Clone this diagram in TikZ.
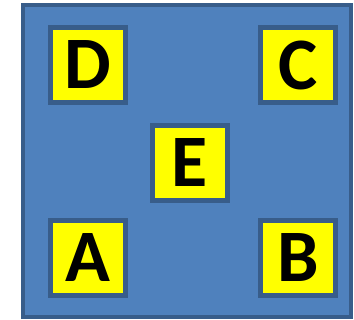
\documentclass[tikz,border=0pt]{standalone}
\usepackage{fontspec}
\setsansfont{Carlito}
\usepackage{tikz}
\usetikzlibrary{positioning}
\definecolor{panelblue}{HTML}{4F81BD}
\definecolor{edgeblue}{HTML}{385D8A}
\definecolor{boxyellow}{HTML}{FFFF00}

\begin{document}
\begin{tikzpicture}[x=1pt, y=-1pt,
  panel/.style={draw=edgeblue, fill=panelblue, line width=4pt},
  tile/.style={draw=edgeblue, fill=boxyellow, line width=5pt, minimum size=75pt, inner sep=0pt, font=\fontsize{74}{74}\selectfont\sffamily\bfseries}]
\useasboundingbox (0,0) rectangle (354,320);
\draw[panel] (23,5) rectangle (351,317);
\node[tile] (D) at (88,65)   {D};
\node[tile] (C) at (298,65)  {C};
\node[tile] (E) at (190,163) {E};
\node[tile] (A) at (88,258)  {A};
\node[tile] (B) at (298,258) {B};
\end{tikzpicture}
\end{document}
